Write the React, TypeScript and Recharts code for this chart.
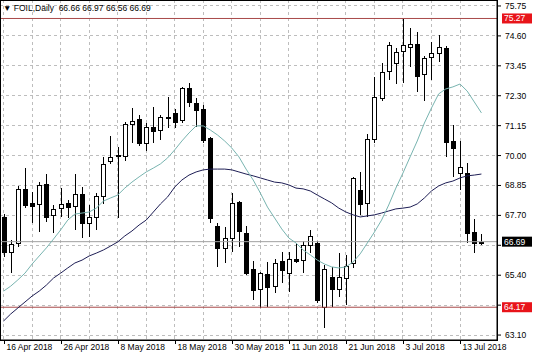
import { Bar, CartesianGrid, ComposedChart, Line, ReferenceLine, XAxis, YAxis } from "recharts";

const FONT = "'Liberation Sans', Arial, sans-serif";

const dates = [
  "16 Apr 2018", "17 Apr 2018", "18 Apr 2018", "19 Apr 2018", "20 Apr 2018",
  "23 Apr 2018", "24 Apr 2018", "25 Apr 2018", "26 Apr 2018", "27 Apr 2018",
  "30 Apr 2018", "1 May 2018", "2 May 2018", "3 May 2018", "4 May 2018",
  "7 May 2018", "8 May 2018", "9 May 2018", "10 May 2018", "11 May 2018",
  "14 May 2018", "15 May 2018", "16 May 2018", "17 May 2018", "18 May 2018",
  "21 May 2018", "22 May 2018", "23 May 2018", "24 May 2018", "25 May 2018",
  "28 May 2018", "29 May 2018", "30 May 2018", "31 May 2018", "1 Jun 2018",
  "4 Jun 2018", "5 Jun 2018", "6 Jun 2018", "7 Jun 2018", "8 Jun 2018",
  "11 Jun 2018", "12 Jun 2018", "13 Jun 2018", "14 Jun 2018", "15 Jun 2018",
  "18 Jun 2018", "19 Jun 2018", "20 Jun 2018", "21 Jun 2018", "22 Jun 2018",
  "25 Jun 2018", "26 Jun 2018", "27 Jun 2018", "28 Jun 2018", "29 Jun 2018",
  "2 Jul 2018", "3 Jul 2018", "4 Jul 2018", "5 Jul 2018", "6 Jul 2018",
  "9 Jul 2018", "10 Jul 2018", "11 Jul 2018", "12 Jul 2018", "13 Jul 2018",
  "16 Jul 2018", "17 Jul 2018", "18 Jul 2018",
];

const open = [
  67.64, 66.29, 66.64, 68.72, 68.18, 68.14, 68.91, 67.71, 67.98, 68.18,
  68.06, 68.52, 67.41, 67.64, 68.45, 69.79, 69.98, 69.98, 71.22, 71.41,
  70.48, 71.1, 70.98, 71.5, 71.64, 71.37, 72.6, 72.02, 71.79, 70.68,
  67.29, 66.45, 66.83, 68.22, 67.02, 65.64, 64.87, 65.45, 64.98, 65.95,
  65.48, 66.02, 65.98, 66.56, 66.62, 64.18, 65.33, 64.87, 65.29, 65.87,
  68.68, 68.18, 70.64, 72.22, 73.25, 73.56, 74.02, 74.18, 74.29, 73.14,
  73.79, 73.95, 74.14, 70.56, 69.33, 69.33, 67.06, 66.66,
];

const high = [
  67.75, 66.75, 68.83, 69.52, 68.6, 68.98, 69.29, 68.1, 68.75, 68.29,
  69.29, 68.79, 68.1, 68.56, 69.95, 70.75, 70.33, 71.29, 71.83, 71.56,
  71.25, 71.87, 71.56, 72.25, 71.79, 72.64, 72.79, 72.22, 71.94, 70.72,
  67.41, 67.25, 68.56, 68.25, 67.29, 65.95, 65.52, 65.91, 66.02, 66.29,
  66.29, 66.64, 66.72, 67.14, 66.7, 65.79, 65.72, 66.25, 66.18, 69.18,
  69.37, 70.83, 73.02, 73.56, 74.37, 74.14, 75.25, 74.91, 74.75, 73.83,
  74.37, 74.64, 74.22, 71.18, 70.56, 69.72, 67.56, 66.97,
];

const low = [
  66.1, 65.48, 66.48, 67.98, 67.41, 67.06, 67.45, 67.02, 67.64, 67.6,
  67.14, 66.83, 66.87, 67.12, 68.14, 69.68, 67.6, 69.79, 70.48, 70.37,
  70.18, 70.48, 70.6, 71.06, 71.06, 71.25, 71.87, 71.1, 70.48, 67.41,
  65.72, 65.87, 66.29, 66.48, 65.41, 64.45, 64.14, 64.18, 64.72, 65.1,
  64.75, 65.87, 65.48, 66.25, 64.33, 63.37, 64.18, 64.56, 64.25, 65.68,
  67.71, 67.64, 70.48, 72.1, 72.91, 72.75, 72.79, 73.41, 72.45, 72.1,
  72.91, 73.6, 69.95, 69.18, 68.68, 66.64, 66.25, 66.56,
];

const close = [
  66.29, 66.6, 68.72, 68.1, 68.06, 68.87, 67.64, 67.95, 68.14, 68.02,
  68.52, 67.41, 67.64, 68.45, 69.68, 69.95, 70.02, 71.22, 71.33, 70.48,
  71.1, 70.95, 71.48, 71.47, 71.29, 72.6, 72.06, 71.75, 70.6, 67.6,
  66.45, 66.83, 68.18, 67.1, 65.48, 64.83, 65.48, 64.95, 65.87, 65.6,
  66.02, 65.95, 66.56, 66.91, 64.41, 65.64, 64.87, 65.33, 65.75, 69.14,
  68.14, 70.64, 72.25, 73.22, 74.25, 73.98, 74.25, 74.29, 73.06, 73.75,
  73.95, 74.18, 70.52, 70.29, 69.56, 67.02, 66.64, 66.69,
];

const maFast = [
  64.79, 64.98, 65.22, 65.48, 65.83, 66.14, 66.45, 66.79, 67.14, 67.52,
  67.75, 67.79, 67.83, 67.98, 68.25, 68.37, 68.48, 68.75, 68.98, 69.18,
  69.37, 69.52, 69.68, 69.91, 70.22, 70.56, 70.87, 71.14, 71.14, 70.98,
  70.79, 70.56, 70.29, 69.95, 69.48, 69.06, 68.56, 68.02, 67.6, 67.18,
  66.83, 66.64, 66.37, 66.18, 65.98, 65.83, 65.72, 65.68, 65.72, 65.91,
  66.22, 66.64, 67.06, 67.52, 68.1, 68.75, 69.33, 69.95, 70.56, 71.25,
  71.83, 72.37, 72.56, 72.64, 72.75, 72.48, 72.06, 71.64,
];

const maSlow = [
  63.64, 63.91, 64.14, 64.37, 64.6, 64.79, 65.02, 65.29, 65.48, 65.68,
  65.87, 65.98, 66.14, 66.25, 66.37, 66.52, 66.68, 66.91, 67.1, 67.33,
  67.52, 67.83, 68.14, 68.41, 68.79, 69.06, 69.25, 69.37, 69.45, 69.48,
  69.48, 69.48, 69.45, 69.37, 69.29, 69.22, 69.14, 69.06, 68.98, 68.95,
  68.87, 68.75, 68.72, 68.64, 68.48, 68.33, 68.18, 67.98, 67.83, 67.72,
  67.64, 67.68, 67.72, 67.79, 67.87, 67.95, 67.98, 68.02, 68.14, 68.37,
  68.64, 68.83, 68.95, 69.02, 69.14, 69.22, 69.25, 69.29,
];

const priceTicks = [63.1, 64.25, 65.4, 66.55, 67.7, 68.85, 70.0, 71.15, 72.3, 73.45, 74.6, 75.75];
const dateLabels = [
  "16 Apr 2018", "26 Apr 2018", "8 May 2018", "18 May 2018", "30 May 2018",
  "11 Jun 2018", "21 Jun 2018", "3 Jul 2018", "13 Jul 2018",
];
const upperLevel = 75.27;
const lowerLevel = 64.17;
const lastPrice = 66.69;
const tagPrices = [upperLevel, lowerLevel, lastPrice];

const data = dates.map((date, i) => ({
  date,
  range: [low[i], high[i]],
  open: open[i],
  high: high[i],
  low: low[i],
  close: close[i],
  fast: maFast[i],
  slow: maSlow[i],
}));

function Candle(props: any) {
  const { x, y, width, height } = props;
  const d = props.payload ?? props;
  const ppu = d.high > d.low ? height / (d.high - d.low) : 0;
  const cx = Math.round(x + width / 2) + 0.5;
  const top = y + (d.high - Math.max(d.open, d.close)) * ppu;
  const bodyH = Math.max(1, Math.round(Math.abs(d.open - d.close) * ppu));
  const up = d.close >= d.open;
  return (
    <g shapeRendering="crispEdges">
      <line x1={cx} x2={cx} y1={y} y2={y + height} stroke="#000" />
      <rect
        x={cx - 2}
        y={Math.round(top) + 0.5}
        width={4}
        height={bodyH}
        fill={up ? "#fff" : "#000"}
        stroke="#000"
      />
    </g>
  );
}

function DateTick(props: any) {
  const { x, y, payload } = props;
  if (!dateLabels.includes(payload.value)) return <g />;
  const px = Math.round(x) + 0.5;
  return (
    <g>
      <line x1={px} x2={px} y1={y} y2={y + 4} stroke="#000" shapeRendering="crispEdges" />
      <text x={px + 2} y={y + 10} fontSize={8.5} fontFamily={FONT} fill="#000">
        {payload.value}
      </text>
    </g>
  );
}

// price labels on the right; the ones hidden under a price tag are skipped
function PriceTick(props: any) {
  const { x, y, payload } = props;
  const covered = tagPrices.some((p) => Math.abs(p - payload.value) < 0.3);
  if (covered) return <g />;
  return (
    <text x={x} y={y + 3} fontSize={8.5} fontFamily={FONT} fill="#000">
      {Number(payload.value).toFixed(2)}
    </text>
  );
}

function PriceTag(props: any) {
  const { viewBox, value, fill } = props;
  if (!viewBox) return null;
  const bx = viewBox.x + viewBox.width + 5;
  const by = viewBox.y;
  return (
    <g>
      <rect x={bx} y={by - 5} width={30} height={10} fill={fill} />
      <text x={bx + 2} y={by + 3} fontSize={8.5} fontFamily={FONT} fill="#fff">
        {value.toFixed(2)}
      </text>
    </g>
  );
}

export default function App() {
  return (
    <div style={{ position: "relative", width: 536, height: 357, background: "#fff" }}>
      <style>{"body{margin:0}"}</style>
      <ComposedChart
        width={536}
        height={357}
        data={data}
        margin={{ top: 0, right: 0, left: 0, bottom: 0 }}
        barSize={5}
      >
        <CartesianGrid stroke="#bdbdbd" strokeDasharray="3 3" shapeRendering="crispEdges" />
        <XAxis
          dataKey="date"
          interval={3}
          padding={{ left: 0, right: 12 }}
          height={17}
          tickLine={false}
          tickSize={0}
          tickMargin={0}
          axisLine={{ stroke: "#000" }}
          tick={<DateTick />}
        />
        <YAxis
          orientation="right"
          width={39}
          type="number"
          domain={[62.91, 75.98]}
          allowDataOverflow
          ticks={priceTicks}
          interval={0}
          tick={<PriceTick />}
          tickSize={4}
          tickMargin={4}
          tickLine={{ stroke: "#000" }}
          axisLine={{ stroke: "#000" }}
        />
        <ReferenceLine y={lastPrice} stroke="#a0a0a0" label={<PriceTag value={lastPrice} fill="#000" />} />
        <ReferenceLine y={upperLevel} stroke="#a84848" label={<PriceTag value={upperLevel} fill="#e8141a" />} />
        <ReferenceLine y={lowerLevel} stroke="#a84848" label={<PriceTag value={lowerLevel} fill="#e8141a" />} />
        <Line
          type="linear"
          dataKey="slow"
          stroke="#1e1e55"
          strokeWidth={1}
          dot={false}
          activeDot={false}
          legendType="none"
          isAnimationActive={false}
        />
        <Line
          type="linear"
          dataKey="fast"
          stroke="#78b4b0"
          strokeWidth={1}
          dot={false}
          activeDot={false}
          legendType="none"
          isAnimationActive={false}
        />
        <Bar dataKey="range" shape={<Candle />} isAnimationActive={false} />
      </ComposedChart>
      <div
        style={{
          position: "absolute",
          left: 0,
          top: 0,
          width: 496,
          height: 339,
          border: "1px solid #000",
          pointerEvents: "none",
        }}
      />
      <div
        style={{
          position: "absolute",
          left: 3,
          top: 3,
          fontSize: 8.5,
          lineHeight: "10px",
          fontFamily: FONT,
          color: "#000",
          whiteSpace: "pre",
        }}
      >
        {"▼ FOIL,Daily  66.66 66.97 66.56 66.69"}
      </div>
    </div>
  );
}
